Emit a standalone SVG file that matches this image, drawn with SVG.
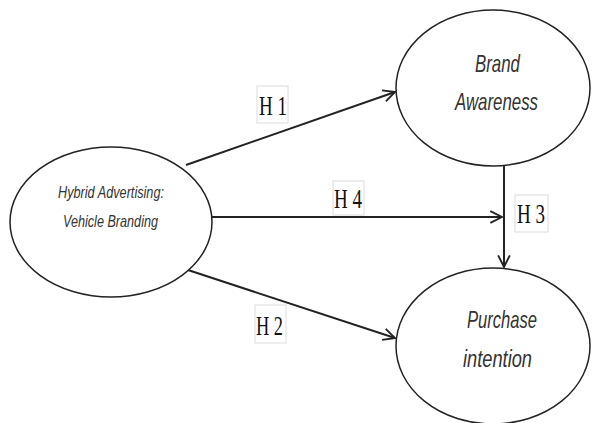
<svg xmlns="http://www.w3.org/2000/svg" width="593" height="423" viewBox="0 0 593 423">
<defs>
<style>
.node ellipse{fill:#fff;stroke:#222;stroke-width:1.5}
.nt{font-family:"Liberation Sans Narrow","Liberation Sans",Arial,sans-serif;font-style:italic;fill:#333;text-anchor:start}
.conn line{stroke:#222;stroke-width:2;fill:none}
.lbl rect{fill:#fff;stroke:#dcdcdc;stroke-width:1}
.lbl text{font-family:"Liberation Serif","Times New Roman",serif;font-size:28px;fill:#111}
</style>
<marker id="ah" viewBox="0 0 12 12" refX="11" refY="6" markerWidth="14" markerHeight="14" markerUnits="userSpaceOnUse" orient="auto">
<path d="M1,1 L11,6 L1,11" fill="none" stroke="#222" stroke-width="1.6"/>
</marker>
</defs>
<rect width="593" height="423" fill="#fff"/>
<g id="connectors" class="conn">
<line x1="186" y1="165" x2="395" y2="92" marker-end="url(#ah)"/>
<line x1="212" y1="217" x2="502" y2="217" marker-end="url(#ah)"/>
<line x1="188" y1="270" x2="395" y2="338" marker-end="url(#ah)"/>
<line x1="504" y1="165" x2="504" y2="267" stroke-width="1.5" marker-end="url(#ah)"/>
</g>
<g id="labels" class="lbl">
<g id="lbl-h1"><rect x="257" y="86" width="31" height="37"/><text x="259" y="115" textLength="28" lengthAdjust="spacingAndGlyphs">H 1</text></g>
<g id="lbl-h4"><rect x="333" y="181" width="31" height="34"/><text x="334" y="208" textLength="28" lengthAdjust="spacingAndGlyphs">H 4</text></g>
<g id="lbl-h3"><rect x="515" y="195" width="33" height="37"/><text x="517" y="223" textLength="28" lengthAdjust="spacingAndGlyphs">H 3</text></g>
<g id="lbl-h2"><rect x="255" y="305" width="31" height="38"/><text x="256" y="335" textLength="27" lengthAdjust="spacingAndGlyphs">H 2</text></g>
</g>
<g id="node-hybrid" class="node">
<ellipse cx="111" cy="222" rx="101" ry="75"/>
<text class="nt" x="58" y="198" font-size="17" textLength="106" lengthAdjust="spacingAndGlyphs">Hybrid Advertising:</text>
<text class="nt" x="63" y="227" font-size="17" textLength="95" lengthAdjust="spacingAndGlyphs">Vehicle Branding</text>
</g>
<g id="node-brand" class="node">
<ellipse cx="493" cy="88" rx="97" ry="78"/>
<text class="nt" x="475" y="72" font-size="24" textLength="45" lengthAdjust="spacingAndGlyphs">Brand</text>
<text class="nt" x="455" y="110" font-size="24" textLength="83" lengthAdjust="spacingAndGlyphs">Awareness</text>
</g>
<g id="node-purchase" class="node">
<ellipse cx="493" cy="346" rx="97" ry="78"/>
<text class="nt" x="467" y="328" font-size="24" textLength="70" lengthAdjust="spacingAndGlyphs">Purchase</text>
<text class="nt" x="463" y="367" font-size="24" textLength="69" lengthAdjust="spacingAndGlyphs">intention</text>
</g>
</svg>
